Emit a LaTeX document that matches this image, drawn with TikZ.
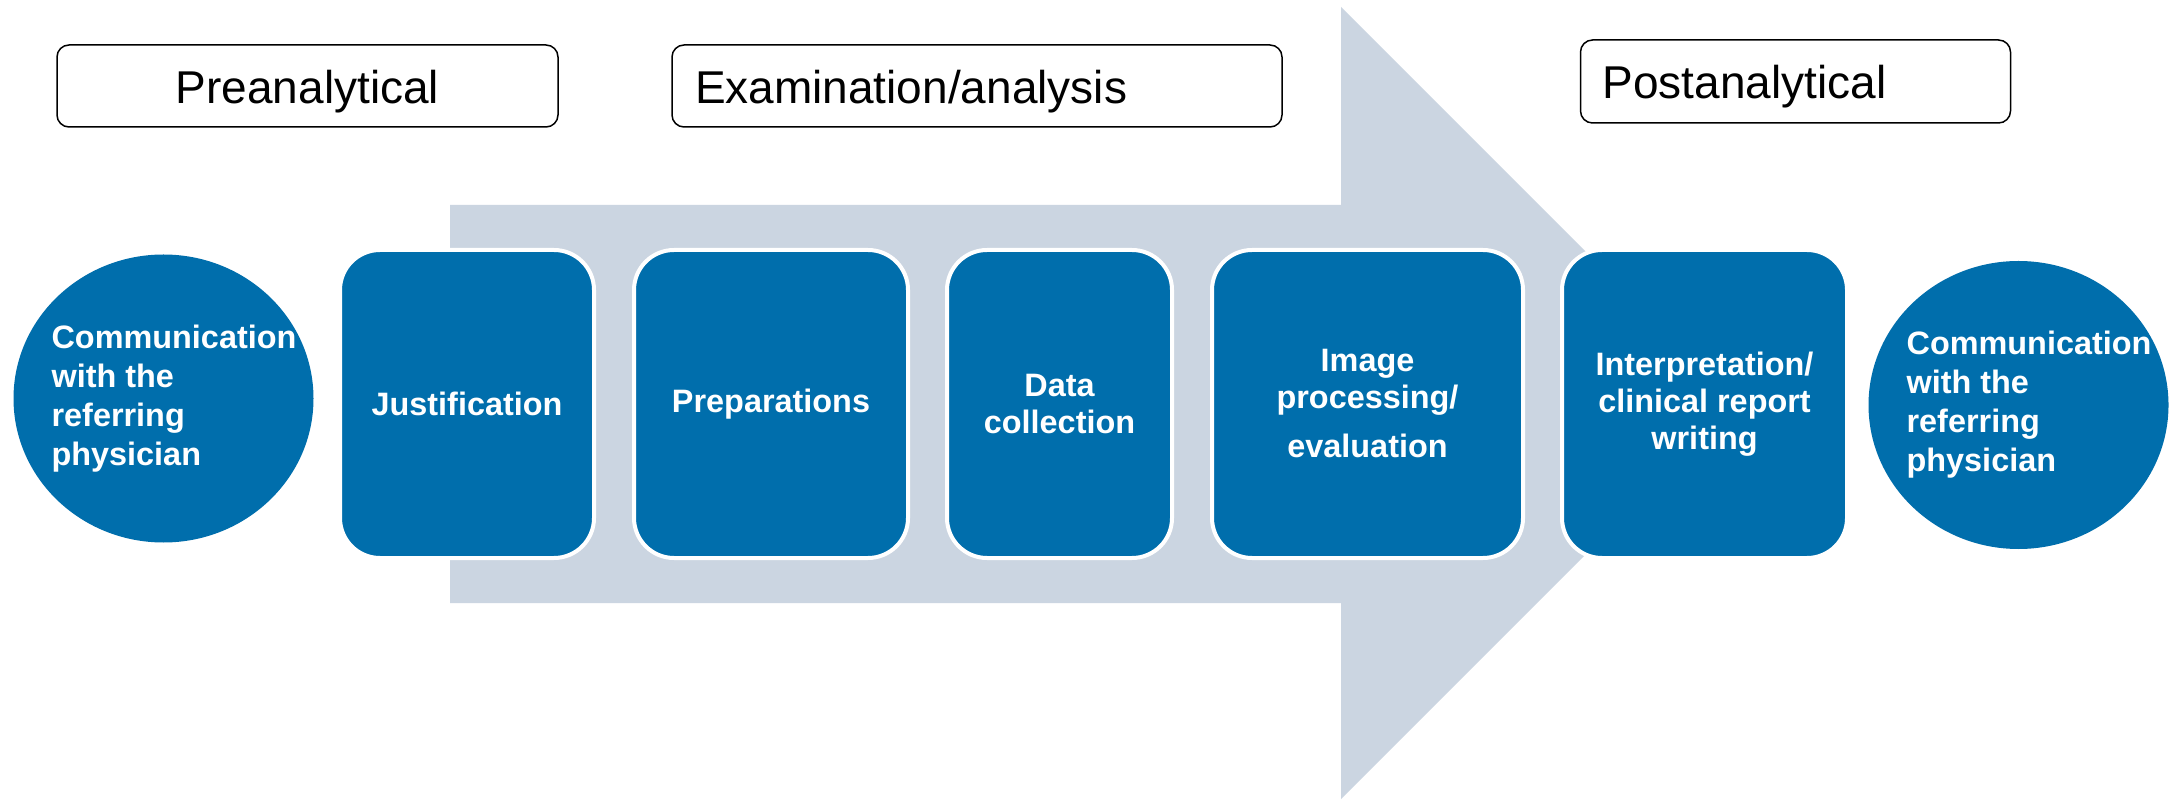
\documentclass[tikz,border=0pt]{standalone}
\usepackage{fontspec}
\setmainfont{Liberation Sans}
\usetikzlibrary{shapes.geometric}
\definecolor{stepblue}{RGB}{0,110,172}
\definecolor{arrowgrey}{RGB}{203,213,225}
\begin{document}
\begin{tikzpicture}[x=0.5pt,y=-0.5pt,
  stepbox/.style={fill=stepblue, draw=white, line width=2pt, rounded corners=20pt,
    minimum height=154pt, text=white, font=\fontsize{16.2}{18.5}\selectfont\bfseries,
    align=center, inner sep=0pt},
  circbox/.style={ellipse, fill=stepblue, minimum width=150pt, minimum height=144pt, inner sep=0pt},
  circtext/.style={text=white, font=\fontsize{16.2}{19.5}\selectfont\bfseries, align=left, inner sep=0pt},
  phase/.style={draw=black, line width=0.75pt, rounded corners=6pt, fill=white,
    minimum height=41pt, font=\fontsize{23}{27}\selectfont, inner ysep=0pt,
    text height=22.5pt, text depth=5pt}
]
\useasboundingbox (0,0) rectangle (2172,801);
\fill[white] (0,0) rectangle (2172,801);

% big arrow
\fill[arrowgrey] (450,205) -- (1341,205) -- (1341,7) -- (1737,403) -- (1341,799)
  -- (1341,603) -- (450,603) -- cycle;

% phase headers
\node[phase, minimum width=250.5pt, inner xsep=0pt] (pre) at (307.5,86) {Preanalytical};
\node[phase, text width=282pt, align=left, inner xsep=11.5pt] (exam) at (977,86) {Examination/analysis};
\node[phase, text width=193pt, align=left, inner xsep=11pt, minimum height=41.5pt] (post) at (1795.5,81.5) {Postanalytical};

% steps
\node[circbox] (c1) at (163.5,398.5) {};
\node[circtext] (c1t) at (174,399) {Communication\\with the\\referring\\physician};
\node[stepbox, minimum width=127pt] (just) at (467,404) {Justification};
\node[stepbox, minimum width=137pt] (prep) at (771,404) {Preparations};
\node[stepbox, minimum width=112.5pt] (data) at (1059.5,404) {Data\\collection};
\node[stepbox, minimum width=155.5pt] (img) at (1367.5,404) {Image\\processing/\\[6pt]evaluation};
\node[stepbox, minimum width=142.5pt] (interp) at (1704.5,404) {Interpretation/\\clinical report\\writing};
\node[circbox] (c2) at (2018.5,405) {};
\node[circtext] (c2t) at (2029,405) {Communication\\with the\\referring\\physician};
\end{tikzpicture}
\end{document}
